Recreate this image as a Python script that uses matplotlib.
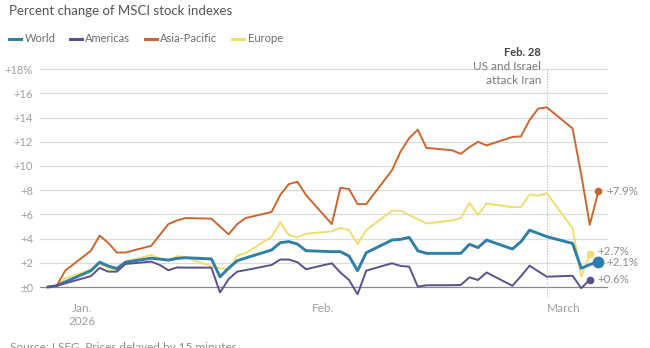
import numpy as np
import pandas as pd
import matplotlib
matplotlib.use("Agg")
import matplotlib.pyplot as plt
from matplotlib.lines import Line2D

plt.rcParams['font.family'] = ['Lato', 'DejaVu Sans']

# === Data (percent change since Dec. 31, 2025) ===

dates = [
    "2025-12-31", "2026-01-01", "2026-01-02",
    "2026-01-05", "2026-01-06", "2026-01-07", "2026-01-08", "2026-01-09",
    "2026-01-12", "2026-01-13", "2026-01-14", "2026-01-15", "2026-01-16",
    "2026-01-19", "2026-01-20", "2026-01-21", "2026-01-22", "2026-01-23",
    "2026-01-26", "2026-01-27", "2026-01-28", "2026-01-29", "2026-01-30",
    "2026-02-02", "2026-02-03", "2026-02-04", "2026-02-05", "2026-02-06",
    "2026-02-09", "2026-02-10", "2026-02-11", "2026-02-12", "2026-02-13",
    "2026-02-16", "2026-02-17", "2026-02-18", "2026-02-19", "2026-02-20",
    "2026-02-23", "2026-02-24", "2026-02-25", "2026-02-26", "2026-02-27",
    "2026-03-02", "2026-03-03", "2026-03-04", "2026-03-05",
]

world = [
    0, 0.1, 0.42,
    1.35, 2.05, 1.74, 1.52, 2.05,
    2.38, 2.3, 2.23, 2.36, 2.42,
    2.32, 0.85, 1.55, 2.17, 2.4,
    3.06, 3.66, 3.75, 3.55, 3.0,
    2.92, 2.92, 2.56, 1.35, 2.83,
    3.88, 3.94, 4.1, 3.0, 2.78,
    2.78, 2.78, 3.53, 3.26, 3.88,
    3.14, 3.75, 4.7, 4.43, 4.16,
    3.6, 1.55, 1.85, 2.1,
]

americas = [
    0, 0.1, 0.3,
    0.9, 1.58, 1.27, 1.27, 1.9,
    2.1, 1.82, 1.38, 1.62, 1.6,
    1.6, -0.45, 0.65, 1.27, 1.4,
    1.82, 2.27, 2.27, 2.05, 1.47,
    1.96, 1.2, 0.58, -0.6, 1.35,
    1.96, 1.74, 1.68, 0.03, 0.14,
    0.15, 0.17, 0.8, 0.58, 1.2,
    0.1, 0.9, 1.76, 1.3, 0.85,
    0.93, -0.1, 0.6, np.nan,
]

asia_pacific = [
    0, 0.1, 1.35,
    3.0, 4.25, 3.65, 2.85, 2.85,
    3.4, 4.3, 5.2, 5.5, 5.7,
    5.65, 5.0, 4.35, 5.2, 5.7,
    6.2, 7.6, 8.5, 8.7, 7.6,
    5.2, 8.2, 8.1, 6.85, 6.85,
    9.65, 11.2, 12.3, 13.0, 11.5,
    11.3, 11.0, 11.55, 12.0, 11.7,
    12.4, 12.45, 13.8, 14.75, 14.85,
    13.1, 9.3, 5.15, 7.9,
]

europe = [
    0, 0.1, 0.7,
    1.45, 1.95, 1.55, 1.4, 2.1,
    2.65, 2.35, 2.15, 2.55, 2.45,
    1.7, 1.55, 1.45, 2.6, 2.8,
    4.15, 5.35, 4.3, 4.1, 4.4,
    4.6, 4.9, 4.7, 3.55, 4.7,
    6.3, 6.3, 5.95, 5.6, 5.25,
    5.5, 5.7, 6.95, 5.95, 6.9,
    6.6, 6.6, 7.65, 7.55, 7.75,
    4.85, 0.85, 2.7, np.nan,
]

month_ticks = ["2026-01-04", "2026-02-01", "2026-03-01"]
month_labels = ["Jan.\n2026", "Feb.", "March"]
event_date = "2026-02-27"

# === Helpers ===

start = pd.Timestamp(dates[0])

def to_day(d):
    return (pd.Timestamp(d) - start).days

x = np.array([to_day(d) for d in dates])

W, H = 650, 348

def fx(px):
    return px / W

def fy(py):
    return 1 - py / H

# === Figure ===

fig = plt.figure(figsize=(W / 100, H / 100), dpi=100)
fig.patch.set_facecolor("white")
ax = fig.add_axes([fx(40), fy(300), fx(608) - fx(40), fy(60) - fy(300)])

ax.set_xlim((40 - 48) / 8.6, (608 - 48) / 8.6)
ax.set_ylim((287 - 300) / 12.1, (287 - 60) / 12.1)

for s in ax.spines.values():
    s.set_visible(False)

yt = list(range(0, 19, 2))
ax.set_yticks(yt)
ylab = []
for v in yt:
    if v == 0:
        ylab.append("±0")
    elif v == 18:
        ylab.append("+18%")
    else:
        ylab.append(f"+{v}")
ax.set_yticklabels(ylab, fontsize=8, color="#a0a0a0")
ax.tick_params(axis="y", length=0, pad=5)
for v in yt[1:]:
    ax.axhline(v, color="#dcdcdc", lw=0.9, zorder=1)
ax.axhline(0, color="#8a8a8a", lw=0.9, zorder=1)

ax.set_xticks([to_day(d) for d in month_ticks])
ax.set_xticklabels(month_labels, fontsize=8.5, color="#a0a0a0", linespacing=1.3)
ax.tick_params(axis="x", length=0, pad=2)

# event line
ex = to_day(event_date)
ax.plot([ex, ex], [(287 - 296) / 12.1, (287 - 68) / 12.1], color="#b5b5b5",
        lw=0.8, ls=(0, (1, 1.5)), zorder=1)

c_world = "#2f7fab"
c_amer = "#5e4f8c"
c_asia = "#cc6630"
c_eur = "#f1dd6e"

ax.plot(x, europe, color=c_eur, lw=1.4, zorder=3)
ax.plot(x, asia_pacific, color=c_asia, lw=1.4, zorder=3)
ax.plot(x, world, color=c_world, lw=2.1, zorder=4)
ax.plot(x, americas, color=c_amer, lw=1.4, zorder=5)

# end dots and labels
ends = [
    (asia_pacific, c_asia, 5.5, "+7.9%", 0),
    (europe, c_eur, 5.5, "+2.7%", 1.8),
    (world, c_world, 8.5, "+2.1%", -0.6),
    (americas, c_amer, 5.5, "+0.6%", 0),
]
for ser, col, ms, lab, dy in ends:
    arr = np.array(ser, dtype=float)
    i = np.where(~np.isnan(arr))[0][-1]
    ax.plot(x[i], arr[i], "o", color=col, ms=ms, zorder=6, mec="none")
    ax.annotate(lab, (x[i], arr[i]), xytext=(5.5, dy), textcoords="offset points",
                fontsize=8.3, color="#8c8c8c", va="center", ha="left")

# event annotation
fig.text(fx(541), fy(52), "Feb. 28", fontsize=8, fontweight="bold", color="#444444",
         ha="right", va="center")
fig.text(fx(541), fy(67), "US and Israel", fontsize=8.5, color="#7a7a7a",
         ha="right", va="center")
fig.text(fx(541), fy(80), "attack Iran", fontsize=8.5, color="#7a7a7a",
         ha="right", va="center")

# title
fig.text(fx(9), fy(11), "Percent change of MSCI stock indexes", fontsize=9.5,
         color="#555555", ha="left", va="center")

# legend
handles = [
    Line2D([], [], color=c_world, lw=2.2),
    Line2D([], [], color=c_amer, lw=2.2),
    Line2D([], [], color=c_asia, lw=2.2),
    Line2D([], [], color=c_eur, lw=2.2),
]
fig.legend(handles, ["World", "Americas", "Asia-Pacific", "Europe"],
           loc="center left", bbox_to_anchor=(fx(9), fy(39)), ncol=4,
           frameon=False, fontsize=8, labelcolor="#6a6a6a",
           handlelength=1.1, handletextpad=0.3, columnspacing=1.3,
           borderaxespad=0, borderpad=0)

# source (cut off at the bottom in the original)
fig.text(fx(10), fy(342), "Source: LSEG. Prices delayed by 15 minutes",
         fontsize=8.5, color="#8c8c8c", ha="left", va="top")

fig.savefig("out.png", dpi=100, facecolor="white")
